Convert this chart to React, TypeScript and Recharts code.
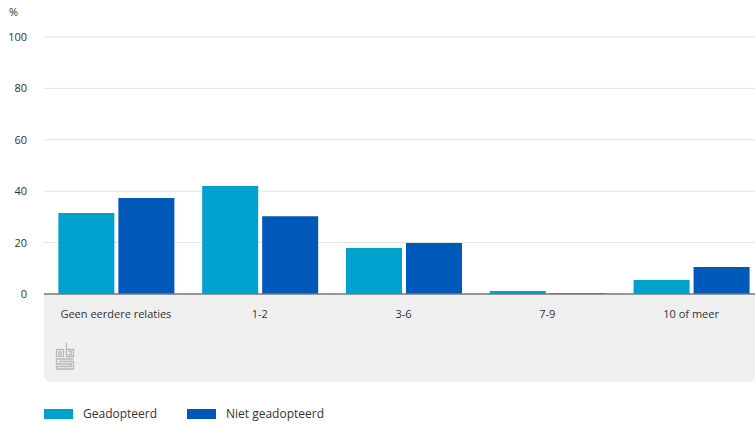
import React from 'react';
import { BarChart, Bar, XAxis, YAxis, CartesianGrid } from 'recharts';

const categories = ['Geen eerdere relaties', '1-2', '3-6', '7-9', '10 of meer'];
const geadopteerd = [31.5, 42, 17.9, 1.2, 5.4];
const nietGeadopteerd = [37.4, 30.3, 19.8, 0.3, 10.5];
const yTicks = [0, 20, 40, 60, 80, 100];

const COLORS = { geadopteerd: '#00a1cd', niet: '#0058b8' };
const FONT = '"Open Sans", "Noto Sans", sans-serif';

const data = categories.map((name, i) => ({
  name,
  geadopteerd: geadopteerd[i],
  niet: nietGeadopteerd[i],
}));

const legendItems = [
  { label: 'Geadopteerd', color: COLORS.geadopteerd, left: 44 },
  { label: 'Niet geadopteerd', color: COLORS.niet, left: 187 },
];

// small grey cbs mark in the band below the axis
const CbsLogo = () => (
  <svg width={20} height={28} viewBox="0 0 20 28" style={{ position: 'absolute', left: 55, top: 342 }}>
    <g fill="none" stroke="#b8b8b8" strokeWidth={1.3}>
      <rect x={1.5} y={7.5} width={7} height={7} />
      <path d="M7 10 H4 V12.5 H7" />
      <path d="M11.5 1 V14.5 H18.5 V7.5 H11.5" />
      <path d="M13.5 9.5 H16.5 V12.5 H13.5" />
      <path d="M18.5 17 H1.5 V22 H16.5 V24.5 H1.5 V27 H18.5 V19.5 H3.5" />
    </g>
  </svg>
);

const App: React.FC = () => {
  return (
    <div
      style={{
        position: 'fixed',
        left: 0,
        top: 0,
        width: 755,
        height: 424,
        overflow: 'hidden',
        background: '#fff',
        fontFamily: FONT,
      }}
    >
      <div
        style={{
          position: 'absolute',
          left: 44,
          top: 294,
          width: 711,
          height: 88,
          background: '#efefef',
          borderRadius: '0 0 6px 6px',
        }}
      />
      <CbsLogo />
      <div style={{ position: 'absolute', left: 9, top: 4, fontSize: 11, color: '#333' }}>%</div>
      <div style={{ position: 'absolute', left: 0, top: 0 }}>
        {/* the original plot runs a little past the right edge of the picture */}
        <BarChart
          width={763}
          height={424}
          data={data}
          margin={{ top: 37, right: 0, bottom: 100, left: 0 }}
          barCategoryGap="10%"
          barGap={4}
        >
          <CartesianGrid vertical={false} stroke="#e2e2e2" strokeWidth={1} />
          <XAxis
            dataKey="name"
            height={30}
            tickLine={false}
            axisLine={{ stroke: '#7a7a7a', strokeWidth: 1.5 }}
            tick={{ fill: '#333', fontSize: 11, fontFamily: FONT }}
            tickMargin={10}
            interval={0}
          />
          <YAxis
            width={44}
            domain={[0, 100]}
            ticks={yTicks}
            axisLine={false}
            tickLine={false}
            tickSize={0}
            tickMargin={17}
            tick={{ fill: '#333', fontSize: 11, fontFamily: FONT }}
          />
          <Bar dataKey="geadopteerd" name="Geadopteerd" fill={COLORS.geadopteerd} isAnimationActive={false} />
          <Bar dataKey="niet" name="Niet geadopteerd" fill={COLORS.niet} isAnimationActive={false} />
        </BarChart>
      </div>
      {legendItems.map((item) => (
        <div
          key={item.label}
          style={{
            position: 'absolute',
            left: item.left,
            top: 406,
            height: 16,
            display: 'flex',
            alignItems: 'center',
            fontSize: 12,
            lineHeight: '16px',
            color: '#333',
          }}
        >
          <span style={{ display: 'inline-block', width: 29, height: 10, background: item.color, marginRight: 10 }} />
          {item.label}
        </div>
      ))}
    </div>
  );
};

export default App;
